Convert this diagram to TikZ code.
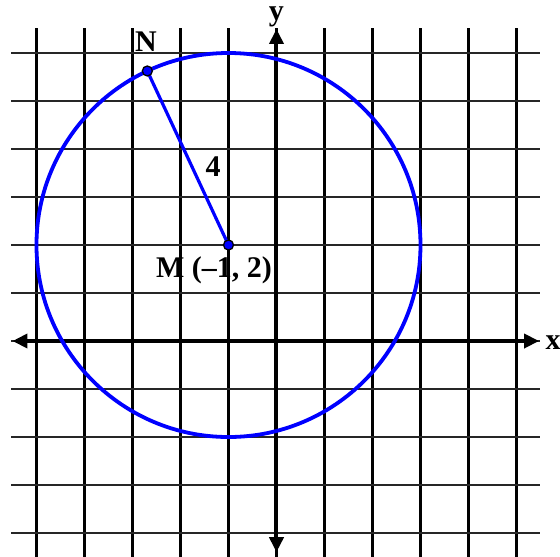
\documentclass[tikz,border=0pt]{standalone}
\usepackage{fontspec}
\setmainfont{Liberation Serif}
\usetikzlibrary{arrows.meta,calc}
\begin{document}
\begin{tikzpicture}[x=48pt,y=48pt,
  vgrid/.style={line width=2.5pt,black},
  hgrid/.style={line width=2pt,black!85},
  axis/.style={line width=4pt,black,{Triangle[length=15pt,width=14pt]}-{Triangle[length=15pt,width=14pt]}},
  lbl/.style={font=\fontsize{30}{34}\selectfont\bfseries,inner sep=0pt},
  dotpt/.style={circle,fill=blue,draw=black,line width=1.3pt,inner sep=0pt,minimum size=10pt}]
\useasboundingbox (-5.76,-4.479) rectangle (5.906,7.104);
\foreach \i in {-5,...,5}{\draw[vgrid] (\i,-4.6) -- (\i,6.52);}
\foreach \j in {-4,...,6}{\draw[hgrid] (-5.53,\j) -- (5.49,\j);}
\coordinate (xl) at (-5.5,0);
\coordinate (xr) at (5.47,0);
\coordinate (yt) at (0,6.5);
\coordinate (yb) at (0,-4.4);
\draw[axis] (xl) -- (xr);
\draw[axis] (yb) -- (yt);
\node[lbl,anchor=west] (xlab) at (5.6,-0.03) {x};
\node[lbl] (ylab) at (0,6.76) {y};
\draw[blue,line width=3.8pt] (-1,2) circle (4);
\coordinate (Mc) at (-1,2);
\coordinate (Nc) at ($(-1,2)+(115:4)$);
\draw[blue,line width=3.2pt] (Mc) -- (Nc);
\node[dotpt] (M) at (Mc) {};
\node[dotpt] (N) at (Nc) {};
\node[lbl] (Nlab) at (-2.72,6.23) {N};
\node[lbl] (rlab) at (-1.32,3.63) {4};
\node[lbl] (Mlab) at (-1.3,1.47) {M (–1, 2)};
\end{tikzpicture}
\end{document}
